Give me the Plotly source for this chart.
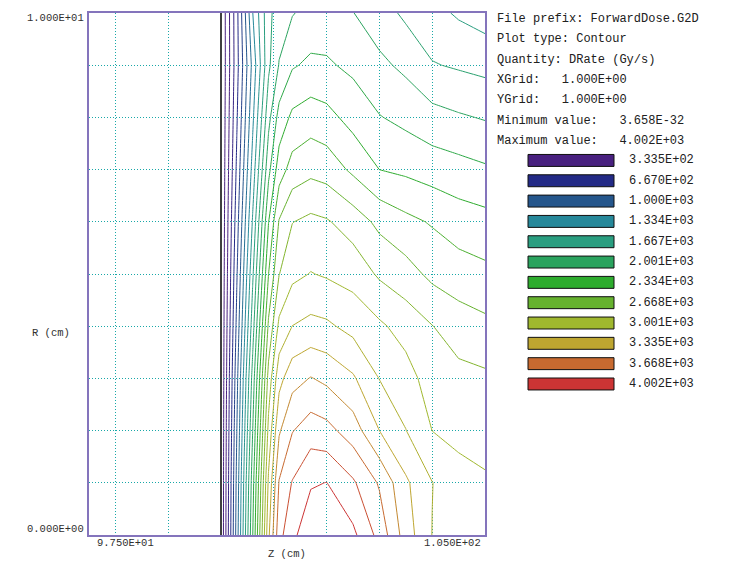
import plotly.graph_objects as go

# mesh positions (cm)
z_cm = [97.5, 100.0, 100.3, 100.6, 100.9, 101.1, 101.35, 101.7, 102.0, 102.5, 103.0, 103.5, 104.0, 104.5, 105.0]
r_cm = [0, 1, 2, 3, 4, 5, 6, 7, 8, 9, 10]

# dose rate (Gy/s), one list per R row, values follow z_cm
drate_r0 = [0, 0, 1080, 2160, 3300, 3780, 3960, 4120, 4150, 4040, 3780, 3420, 3165, 3100, 3060]
drate_r1 = [0, 0, 1050, 2100, 3200, 3680, 3845, 3985, 4005, 3859, 3649, 3364, 3172, 3050, 3020]
drate_r2 = [0, 0, 1000, 2000, 3050, 3480, 3660, 3755, 3722, 3585, 3335, 3172, 3000, 2966, 2946]
drate_r3 = [0, 0, 950, 1900, 2900, 3280, 3440, 3510, 3465, 3357, 3164, 3071, 2920, 2885, 2865]
drate_r4 = [0, 0, 880, 1760, 2700, 3040, 3170, 3215, 3197, 3116, 3030, 2935, 2839, 2753, 2709]
drate_r5 = [0, 0, 820, 1640, 2500, 2830, 2960, 3008, 2984, 2939, 2810, 2735, 2628, 2578, 2541]
drate_r6 = [0, 0, 760, 1520, 2330, 2680, 2830, 2875, 2851, 2759, 2626, 2544, 2486, 2419, 2390]
drate_r7 = [0, 0, 700, 1400, 2120, 2420, 2570, 2625, 2598, 2468, 2334, 2302, 2260, 2228, 2191]
drate_r8 = [0, 0, 650, 1300, 1950, 2230, 2370, 2420, 2387, 2275, 2176, 2122, 2059, 2020, 1989]
drate_r9 = [0, 0, 610, 1220, 1800, 2010, 2150, 2200, 2190, 2131, 2037, 1964, 1845, 1815, 1786]
drate_r10 = [0, 0, 620, 1330, 1790, 1920, 1990, 2060, 2070, 2005, 1910, 1800, 1720, 1645, 1590]

# legend levels and colours
level_values = [333.5, 667.0, 1000.0, 1334.0, 1667.0, 2001.0, 2334.0, 2668.0, 3001.0, 3335.0, 3668.0, 4002.0]
level_labels = ['3.335E+02', '6.670E+02', '1.000E+03', '1.334E+03', '1.667E+03', '2.001E+03',
                '2.334E+03', '2.668E+03', '3.001E+03', '3.335E+03', '3.668E+03', '4.002E+03']
level_colors = ['#48207F', '#232A86', '#25568C', '#26889A', '#2A9E80', '#2AA35E',
                '#2EAC2E', '#66B22E', '#A0B82E', '#BEA630', '#C86A30', '#CC3434']

info_lines = ['File prefix: ForwardDose.G2D', 'Plot type: Contour', 'Quantity: DRate (Gy/s)',
              'XGrid:   1.000E+00', 'YGrid:   1.000E+00',
              'Minimum value:   3.658E-32', 'Maximum value:   4.002E+03']

x_tick_labels = ['9.750E+01', '1.050E+02']
y_tick_labels = ['0.000E+00', '1.000E+01']
boundary_z = 100.0

W, H = 739, 579
L, RT, T, B = 89, 485, 11, 535
FONT = 'Liberation Mono, Courier New, monospace'


def px(x):
    return (x - L) / (RT - L)


def py(y):
    return (B - y) / (B - T)


def nb(s):
    return s.replace(' ', '\u00a0')


drate = [drate_r0, drate_r1, drate_r2, drate_r3, drate_r4, drate_r5, drate_r6,
         drate_r7, drate_r8, drate_r9, drate_r10]

step = level_values[0] / 2
start, end = step, level_values[-1]
colorscale = [[0, level_colors[0]]] + [[(v - start) / (end - start), c] for v, c in zip(level_values, level_colors)]
colorscale[-1][0] = 1.0

fig = go.Figure(go.Contour(
    x=z_cm, y=r_cm, z=drate,
    autocontour=False,
    contours=dict(start=start, end=end, size=step, coloring='lines'),
    colorscale=colorscale, showscale=False,
    line=dict(width=1, smoothing=0),
    hoverinfo='skip',
))

fig.add_shape(type='line', xref='x', yref='y', x0=boundary_z, x1=boundary_z, y0=r_cm[0], y1=r_cm[-1],
              line=dict(color='#404040', width=2))

axis_style = dict(showgrid=True, gridcolor='#18A8A8', griddash='1px,2px', gridwidth=1,
                  zeroline=False, showticklabels=False, ticks='',
                  showline=True, linecolor='#8474BC', linewidth=2, mirror=True)
fig.update_xaxes(range=[97.5, 105], tickvals=[98, 99, 100, 101, 102, 103, 104], **axis_style)
fig.update_yaxes(range=[0, 10], tickvals=[1, 2, 3, 4, 5, 6, 7, 8, 9], **axis_style)

ann = []
tick_font = dict(family=FONT, size=10.5, color='#303030')
ann.append(dict(x=px(95), y=py(543), text=x_tick_labels[0], xanchor='left'))
ann.append(dict(x=px(483), y=py(543), text=x_tick_labels[1], xanchor='right'))
ann.append(dict(x=px(86), y=py(529), text=y_tick_labels[0], xanchor='right'))
ann.append(dict(x=px(86), y=py(16), text=y_tick_labels[1], xanchor='right'))
ann.append(dict(x=px(287), y=py(554), text='Z (cm)', xanchor='center'))
ann.append(dict(x=px(30), y=py(332), text='R (cm)', xanchor='left'))
for a in ann:
    a.update(xref='paper', yref='paper', yanchor='middle', showarrow=False, font=tick_font)
    a['text'] = nb(a['text'])

info_font = dict(family=FONT, size=12, color='#202020')
for i, line in enumerate(info_lines):
    ann.append(dict(x=px(495), y=py(17 + 20.4 * i), text=nb(line), xref='paper', yref='paper',
                    xanchor='left', yanchor='middle', showarrow=False, font=info_font))

for i, (lab, col) in enumerate(zip(level_labels, level_colors)):
    yc = 159 + 20.4 * i
    fig.add_shape(type='rect', xref='paper', yref='paper', x0=px(528), x1=px(614),
                  y0=py(yc + 6), y1=py(yc - 6), fillcolor=col, line=dict(color='#101010', width=1))
    ann.append(dict(x=px(627), y=py(yc), text=lab, xref='paper', yref='paper',
                    xanchor='left', yanchor='middle', showarrow=False, font=info_font))

fig.update_layout(
    width=W, height=H,
    margin=dict(l=L, r=W - RT, t=T, b=H - B),
    paper_bgcolor='white', plot_bgcolor='white',
    showlegend=False,
    annotations=ann,
)

# page body has a default 8px margin; drop it so the figure sits at the window corner
fig.write_html("out.html", config={'displayModeBar': False},
               post_script="document.body.style.margin='0';")
